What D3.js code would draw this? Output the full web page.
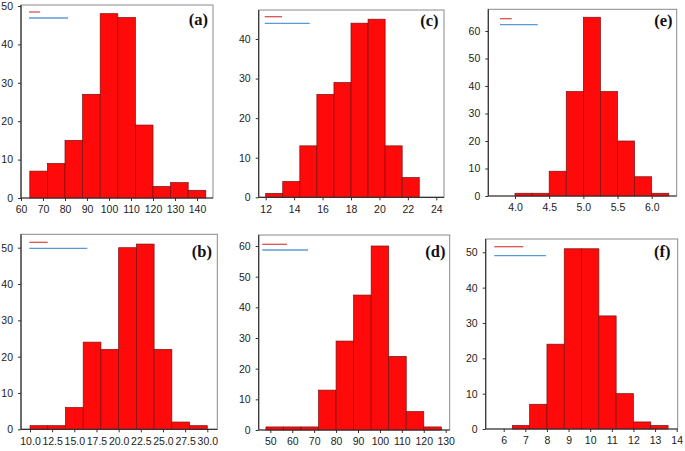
<!DOCTYPE html>
<html>
<head>
<meta charset="utf-8">
<script src="https://cdn.jsdelivr.net/npm/d3@7"></script>
<style>
  body { margin: 0; background: #fff; }
  .tick text { font-family: "Liberation Sans", Arial, sans-serif; font-size: 10.5px; fill: #222; }
  .panel-label { font-family: "Liberation Serif", "Times New Roman", serif; font-weight: bold; font-size: 16.5px; fill: #111; }
</style>
</head>
<body>
<div id="app"></div>
<script>
// bin edges + counts
const edgesA  = [64, 72, 80, 88, 96, 104, 112, 120, 128, 136, 144];
const countsA = [7, 9, 15, 27, 48, 47, 19, 3, 4, 2];
const edgesB  = [10, 12, 14, 16, 18, 20, 22, 24, 26, 28, 30];
const countsB = [1, 1, 6, 24, 22, 50, 51, 22, 2, 1];
const edgesC  = [12, 13.2, 14.4, 15.6, 16.8, 18, 19.2, 20.4, 21.6, 22.8];
const countsC = [1, 4, 13, 26, 29, 44, 45, 13, 5];
const edgesD  = [48, 56, 64, 72, 80, 88, 96, 104, 112, 120, 128];
const countsD = [1, 1, 1, 13, 29, 44, 60, 24, 6, 1];
const edgesE  = [4.0, 4.25, 4.5, 4.75, 5.0, 5.25, 5.5, 5.75, 6.0, 6.25];
const countsE = [1, 1, 9, 38, 65, 38, 20, 7, 1];
const edgesF  = [6.4, 7.2, 8.0, 8.8, 9.6, 10.4, 11.2, 12.0, 12.8, 13.6];
const countsF = [1, 7, 24, 51, 51, 32, 10, 2, 1];

// tick labels
const xTicksA = [60, 70, 80, 90, 100, 110, 120, 130, 140];
const xTicksB = [10, 12.5, 15, 17.5, 20, 22.5, 25, 27.5, 30];
const xTicksC = [12, 14, 16, 18, 20, 22, 24];
const xTicksD = [50, 60, 70, 80, 90, 100, 110, 120, 130];
const xTicksE = [4.0, 4.5, 5.0, 5.5, 6.0];
const xTicksF = [6, 7, 8, 9, 10, 11, 12, 13, 14];
const yTicks50 = [0, 10, 20, 30, 40, 50];
const yTicks40 = [0, 10, 20, 30, 40];
const yTicks60 = [0, 10, 20, 30, 40, 50, 60];
const labels = ["(a)", "(b)", "(c)", "(d)", "(e)", "(f)"];

// layout of each panel (pixels): frame box, where the tick values sit, label + legend spots
const panels = [
  { name: labels[0], edges: edgesA, counts: countsA, xt: xTicksA, yt: yTicks50, fmt: d3.format("d"),
    box: [21, 5, 213, 198], xd: [60, 140], xr: [21, 197], yd: [0, 50], yr: [198, 6],
    lab: [208, 25], red: [29, 40, 12], blue: [29, 68, 18] },
  { name: labels[1], edges: edgesB, counts: countsB, xt: xTicksB, yt: yTicks50, fmt: d3.format(".1f"),
    box: [21, 234.3, 217.3, 429.3], xd: [10, 30], xr: [30, 207.3], yd: [0, 50], yr: [429.3, 247.7],
    lab: [212, 256.5], red: [29.3, 47.7, 242.3], blue: [29.3, 87.3, 248.3] },
  { name: labels[2], edges: edgesC, counts: countsC, xt: xTicksC, yt: yTicks40, fmt: d3.format("d"),
    box: [258.7, 10, 444, 197.3], xd: [12, 24], xr: [265.7, 436.3], yd: [0, 40], yr: [197.3, 39],
    lab: [438.5, 25.5], red: [264.7, 282, 16.7], blue: [264.7, 309.7, 23.3] },
  { name: labels[3], edges: edgesD, counts: countsD, xt: xTicksD, yt: yTicks60, fmt: d3.format("d"),
    box: [258.7, 235, 449.7, 430], xd: [50, 130], xr: [270.3, 445.7], yd: [0, 60], yr: [430, 246],
    lab: [445.5, 256.5], red: [262.3, 287, 244.3], blue: [262.3, 308, 250] },
  { name: labels[4], edges: edgesE, counts: countsE, xt: xTicksE, yt: yTicks60, fmt: d3.format(".1f"),
    box: [488.3, 9.3, 676.7, 196], xd: [4, 6], xr: [515, 651.7], yd: [0, 60], yr: [196, 31],
    lab: [672.5, 25.5], red: [500, 511.7, 18.7], blue: [500, 537.7, 24.7] },
  { name: labels[5], edges: edgesF, counts: countsF, xt: xTicksF, yt: yTicks50, fmt: d3.format("d"),
    box: [485.7, 239, 677.7, 429], xd: [6, 14], xr: [503.7, 676.7], yd: [0, 50], yr: [429, 252.3],
    lab: [670.5, 256.5], red: [494.3, 523.3, 246.7], blue: [494.3, 546, 255.7] }
];

const svg = d3.select("#app").append("svg")
    .attr("width", 685)
    .attr("height", 451);

panels.forEach(p => drawPanel(p));

function drawPanel(p){
  const [l, t, r, b] = p.box;
  const x = d3.scaleLinear().domain(p.xd).range(p.xr);
  const y = d3.scaleLinear().domain(p.yd).range(p.yr);
  const g = svg.append("g");

  // grey frame
  g.append("rect")
      .attr("x", l).attr("y", t)
      .attr("width", r - l).attr("height", b - t)
      .attr("fill", "#fff")
      .attr("stroke", "#8a8a8a")
      .attr("stroke-width", 1);

  const bins = p.counts.map((c, i) => ({ x0: p.edges[i], x1: p.edges[i + 1], n: c }));
  g.selectAll("rect.bar")
    .data(bins).enter()
    .append("rect")
      .attr("class", "bar")
      .attr("x", d => x(d.x0))
      .attr("width", d => x(d.x1) - x(d.x0))
      .attr("y", d => y(d.n))
      .attr("height", d => y(0) - y(d.n))
      .attr("fill", "#ff0a0a")
      .attr("stroke", "#7a1010")
      .attr("stroke-width", 0.7);

  // axes, darker than the frame
  const xa = g.append("g")
      .attr("transform", "translate(0," + b + ")")
      .call(d3.axisBottom(x).tickValues(p.xt).tickFormat(p.fmt).tickSize(3).tickPadding(5));
  xa.select(".domain").remove();
  g.append("line").attr("x1", l).attr("x2", r).attr("y1", b).attr("y2", b)
      .attr("stroke", "#333").attr("stroke-width", 1.2);

  const ya = g.append("g")
      .attr("transform", "translate(" + l + ",0)")
      .call(d3.axisLeft(y).tickValues(p.yt).tickSize(3).tickPadding(5));
  ya.select(".domain").remove();
  g.append("line").attr("x1", l).attr("x2", l).attr("y1", t).attr("y2", b)
      .attr("stroke", "#333").attr("stroke-width", 1.2);

  g.selectAll(".tick line").attr("stroke", "#333");

  // empty legend swatches
  g.append("line")
      .attr("x1", p.red[0]).attr("x2", p.red[1]).attr("y1", p.red[2]).attr("y2", p.red[2])
      .attr("stroke", "#d9534f").attr("stroke-width", 1.3);
  g.append("line")
      .attr("x1", p.blue[0]).attr("x2", p.blue[1]).attr("y1", p.blue[2]).attr("y2", p.blue[2])
      .attr("stroke", "#5b9bd5").attr("stroke-width", 1.3);

  g.append("text")
      .attr("class", "panel-label")
      .attr("x", p.lab[0]).attr("y", p.lab[1])
      .attr("text-anchor", "end")
      .text(p.name);
}
</script>
</body>
</html>
